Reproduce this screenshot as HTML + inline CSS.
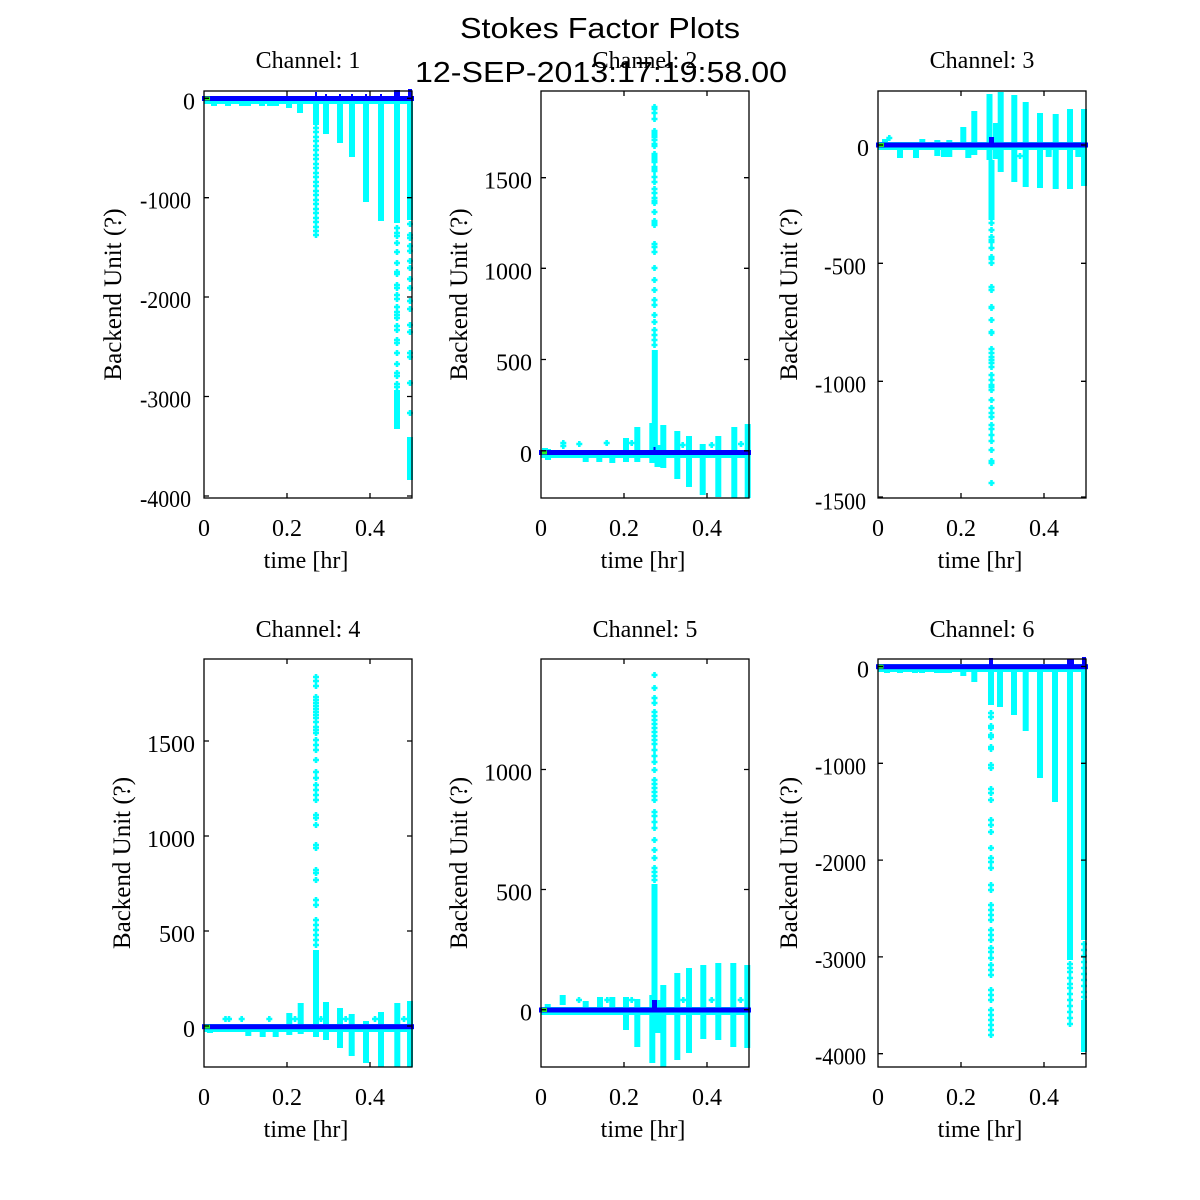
<!DOCTYPE html>
<html><head><meta charset="utf-8"><style>html,body{margin:0;padding:0;background:#fff}svg{display:block}</style></head>
<body>
<svg width="1200" height="1200" viewBox="0 0 1200 1200" xmlns="http://www.w3.org/2000/svg">
<rect width="1200" height="1200" fill="#fff"/>

<!-- ================= PLOT 1 ================= -->
<g>
<rect x="204" y="96" width="209" height="8" fill="#00ffff"/>
<path fill="none" stroke="#00ffff" stroke-width="6" d="M214 98V106M228 98V106M242 98V106M248 98V106M262 98V106M270 98V106M276 98V106M289 98V108M300 98V113M316 96V125M326 96V134M340 96V143M352 96V157M366 96V202M381 96V221M397 96V223M397 390V429M410 96V220M410 437V480"/>
<path fill="none" stroke="#00ffff" stroke-width="2.6" d="M313 128h6m-3-3v6M313 132h6m-3-3v6M313 137h6m-3-3v6M313 141h6m-3-3v6M313 146h6m-3-3v6M313 150h6m-3-3v6M313 155h6m-3-3v6M313 159h6m-3-3v6M313 164h6m-3-3v6M313 168h6m-3-3v6M313 173h6m-3-3v6M313 177h6m-3-3v6M313 182h6m-3-3v6M313 186h6m-3-3v6M313 191h6m-3-3v6M313 195h6m-3-3v6M313 200h6m-3-3v6M313 204h6m-3-3v6M313 209h6m-3-3v6M313 213h6m-3-3v6M313 218h6m-3-3v6M313 222h6m-3-3v6M313 227h6m-3-3v6M313 231h6m-3-3v6M313 235h6m-3-3v6
M394 228h6m-3-3v6M394 233h6m-3-3v6M394 236h6m-3-3v6M394 243h6m-3-3v6M394 252h6m-3-3v6M394 263h6m-3-3v6M394 272h6m-3-3v6M394 274h6m-3-3v6M394 285h6m-3-3v6M394 288h6m-3-3v6M394 295h6m-3-3v6M394 299h6m-3-3v6M394 307h6m-3-3v6M394 312h6m-3-3v6M394 315h6m-3-3v6M394 318h6m-3-3v6M394 326h6m-3-3v6M394 330h6m-3-3v6M394 340h6m-3-3v6M394 343h6m-3-3v6M394 353h6m-3-3v6M394 364h6m-3-3v6M394 373h6m-3-3v6M394 376h6m-3-3v6M394 384h6m-3-3v6M394 387h6m-3-3v6
M407 224h6m-3-3v6M407 235h6m-3-3v6M407 238h6m-3-3v6M407 246h6m-3-3v6M407 251h6m-3-3v6M407 261h6m-3-3v6M407 268h6m-3-3v6M407 279h6m-3-3v6M407 288h6m-3-3v6M407 301h6m-3-3v6M407 309h6m-3-3v6M407 325h6m-3-3v6M407 332h6m-3-3v6M407 353h6m-3-3v6M407 357h6m-3-3v6M407 383h6m-3-3v6M407 413h6m-3-3v6"/>
<rect x="202" y="96" width="212" height="5" fill="#0000ff"/>
<rect x="394" y="90" width="6" height="8" fill="#0000ff"/>
<rect x="408" y="89" width="4" height="9" fill="#0000ff"/>
<path fill="none" stroke="#0000ff" stroke-width="2" d="M316 92v5M326 94v3M340 94v3M352 94v3M366 94v3M381 94v3"/>
<rect x="205" y="96.5" width="5" height="4" fill="#22ee22"/>
<rect x="204" y="91" width="208" height="407" fill="none" stroke="#000" stroke-width="1.3"/>
<path fill="none" stroke="#000" stroke-width="1.3" d="M287 498v-5M370 498v-5M287 91v5M370 91v5M204 98.3h5M204 197.7h5M204 297h5M204 396.5h5M204 496h5M412 98.3h-5M412 197.7h-5M412 297h-5M412 396.5h-5M412 496h-5"/>
<g font-family="Liberation Serif, serif" font-size="24" fill="#000">
<text x="308" y="68" text-anchor="middle">Channel: 1</text>
<g text-anchor="end">
<text x="195" y="109.3">0</text>
<text x="191" y="208.7" textLength="51" lengthAdjust="spacingAndGlyphs">-1000</text>
<text x="191" y="308" textLength="51" lengthAdjust="spacingAndGlyphs">-2000</text>
<text x="191" y="407.5" textLength="51" lengthAdjust="spacingAndGlyphs">-3000</text>
<text x="191" y="507" textLength="51" lengthAdjust="spacingAndGlyphs">-4000</text>
</g>
<g text-anchor="middle">
<text x="204" y="536">0</text>
<text x="287" y="536">0.2</text>
<text x="370" y="536">0.4</text>
<text x="306" y="568">time [hr]</text>
</g>
<text transform="translate(121,294.5) rotate(-90)" text-anchor="middle" font-size="25">Backend Unit (?)</text>
</g>
</g>

<!-- ================= PLOT 2 ================= -->
<g>
<rect x="541" y="450" width="209" height="8" fill="#00ffff"/>
<path fill="none" stroke="#00ffff" stroke-width="6" d="M545 448V458M548 449V460M585.7 453V462M599.3 453V462M612.3 453V463M626 438V462M637.3 427V462M652.3 423V463M654.8 350V463M657.5 445V467M663.3 425V468M677.3 431V479M689 436V487M702.7 444V495M718.3 436V497M734.3 427V498M747.7 424V498"/>
<path fill="none" stroke="#00ffff" stroke-width="2.6" d="M560.3 443h6m-3-3v6M560.3 446h6m-3-3v6M576.3 444h6m-3-3v6M603.7 443h6m-3-3v6M628.7 443h6m-3-3v6M679.7 445h6m-3-3v6M708.7 445h6m-3-3v6M738 444h6m-3-3v6
M651.5 107h6m-3-3v6M651.5 109h6m-3-3v6M651.5 113h6m-3-3v6M651.5 119h6m-3-3v6M651.5 131h6m-3-3v6M651.5 133h6m-3-3v6M651.5 135h6m-3-3v6M651.5 137h6m-3-3v6M651.5 140h6m-3-3v6M651.5 144h6m-3-3v6M651.5 146h6m-3-3v6M651.5 154h6m-3-3v6M651.5 156h6m-3-3v6M651.5 158h6m-3-3v6M651.5 160h6m-3-3v6M651.5 162h6m-3-3v6M651.5 167h6m-3-3v6M651.5 169h6m-3-3v6M651.5 171h6m-3-3v6M651.5 177h6m-3-3v6M651.5 182h6m-3-3v6M651.5 189h6m-3-3v6M651.5 193h6m-3-3v6M651.5 198h6m-3-3v6M651.5 201h6m-3-3v6M651.5 203h6m-3-3v6M651.5 212h6m-3-3v6M651.5 221h6m-3-3v6M651.5 223h6m-3-3v6M651.5 225h6m-3-3v6M651.5 244h6m-3-3v6M651.5 247h6m-3-3v6M651.5 252h6m-3-3v6M651.5 268h6m-3-3v6M651.5 280h6m-3-3v6M651.5 290h6m-3-3v6M651.5 300h6m-3-3v6M651.5 305h6m-3-3v6M651.5 315h6m-3-3v6M651.5 322h6m-3-3v6M651.5 330h6m-3-3v6M651.5 335h6m-3-3v6M651.5 340h6m-3-3v6M651.5 345h6m-3-3v6"/>
<rect x="539" y="450" width="212" height="5" fill="#0000ff"/>
<path fill="none" stroke="#0000ff" stroke-width="2" d="M654.5 447v4"/>
<rect x="542" y="450.5" width="5" height="4" fill="#22ee22"/>
<rect x="541" y="91" width="208" height="407" fill="none" stroke="#000" stroke-width="1.3"/>
<path fill="none" stroke="#000" stroke-width="1.3" d="M624 498v-5M707 498v-5M624 91v5M707 91v5M541 450.8h5M541 359.5h5M541 268.3h5M541 177.7h5M749 450.8h-5M749 359.5h-5M749 268.3h-5M749 177.7h-5"/>
<g font-family="Liberation Serif, serif" font-size="24" fill="#000">
<text x="645" y="68" text-anchor="middle">Channel: 2</text>
<g text-anchor="end">
<text x="532" y="462">0</text>
<text x="532" y="370.5">500</text>
<text x="532" y="279.3">1000</text>
<text x="532" y="188.7">1500</text>
</g>
<g text-anchor="middle">
<text x="541" y="536">0</text>
<text x="624" y="536">0.2</text>
<text x="707" y="536">0.4</text>
<text x="643" y="568">time [hr]</text>
</g>
<text transform="translate(467,294.5) rotate(-90)" text-anchor="middle" font-size="25">Backend Unit (?)</text>
</g>
</g>

<!-- ================= PLOT 3 ================= -->
<g>
<rect x="878" y="142" width="209" height="8" fill="#00ffff"/>
<path fill="none" stroke="#00ffff" stroke-width="6" d="M885 139V150M900 148V158M916 150V158M922.3 139V149M937.3 140V156M944 148V157M949.3 140V157M963.3 127V150M968.3 148V158M974.3 111V155M989.5 94V160M991.5 160V220M996 123V159M1000.7 92V172M1014.3 95V182M1025.7 102V187M1040 113V188M1048.7 148V157M1055.7 114V189M1070 109V189M1078.3 148V157M1084 109V186"/>
<path fill="none" stroke="#00ffff" stroke-width="2.6" d="M886.3 138h6m-3-3v6M1017 156h6m-3-3v6
M988.5 223h6m-3-3v6M988.5 230h6m-3-3v6M988.5 237h6m-3-3v6M988.5 240h6m-3-3v6M988.5 242h6m-3-3v6M988.5 248h6m-3-3v6M988.5 257h6m-3-3v6M988.5 259h6m-3-3v6M988.5 263h6m-3-3v6M988.5 287h6m-3-3v6M988.5 290h6m-3-3v6M988.5 307h6m-3-3v6M988.5 308h6m-3-3v6M988.5 320h6m-3-3v6M988.5 332h6m-3-3v6M988.5 333h6m-3-3v6M988.5 349h6m-3-3v6M988.5 353h6m-3-3v6M988.5 357h6m-3-3v6M988.5 360h6m-3-3v6M988.5 363h6m-3-3v6M988.5 367h6m-3-3v6M988.5 375h6m-3-3v6M988.5 380h6m-3-3v6M988.5 385h6m-3-3v6M988.5 387h6m-3-3v6M988.5 390h6m-3-3v6M988.5 400h6m-3-3v6M988.5 408h6m-3-3v6M988.5 413h6m-3-3v6M988.5 417h6m-3-3v6M988.5 425h6m-3-3v6M988.5 429h6m-3-3v6M988.5 435h6m-3-3v6M988.5 441h6m-3-3v6M988.5 450h6m-3-3v6M988.5 461h6m-3-3v6M988.5 463h6m-3-3v6M988.5 483h6m-3-3v6"/>
<rect x="876" y="142.5" width="212" height="5" fill="#0000ff"/>
<rect x="989" y="137" width="5" height="8" fill="#0000ff"/>
<rect x="879" y="143" width="5" height="4" fill="#22ee22"/>
<rect x="878" y="91" width="208" height="407" fill="none" stroke="#000" stroke-width="1.3"/>
<path fill="none" stroke="#000" stroke-width="1.3" d="M961 498v-5M1044 498v-5M961 91v5M1044 91v5M878 145h5M878 263.3h5M878 381.3h5M878 497h5M1086 145h-5M1086 263.3h-5M1086 381.3h-5M1086 497h-5"/>
<g font-family="Liberation Serif, serif" font-size="24" fill="#000">
<text x="982" y="68" text-anchor="middle">Channel: 3</text>
<g text-anchor="end">
<text x="869" y="156">0</text>
<text x="866" y="274.3" textLength="42" lengthAdjust="spacingAndGlyphs">-500</text>
<text x="866" y="392.3" textLength="51" lengthAdjust="spacingAndGlyphs">-1000</text>
<text x="866" y="509.7" textLength="51" lengthAdjust="spacingAndGlyphs">-1500</text>
</g>
<g text-anchor="middle">
<text x="878" y="536">0</text>
<text x="961" y="536">0.2</text>
<text x="1044" y="536">0.4</text>
<text x="980" y="568">time [hr]</text>
</g>
<text transform="translate(797,294.5) rotate(-90)" text-anchor="middle" font-size="25">Backend Unit (?)</text>
</g>
</g>

<!-- ================= PLOT 4 ================= -->
<g>
<rect x="204" y="1024" width="209" height="8" fill="#00ffff"/>
<path fill="none" stroke="#00ffff" stroke-width="6" d="M210 1026V1033M248.3 1026V1036M262.7 1026V1037M275.7 1026V1037M289.3 1013V1035M300.7 1003V1034M316 950V1037M326 1002V1040M340 1008V1048M351.7 1014V1056M366 1021V1063M381 1012V1067M397.3 1003V1067M410 1001V1067"/>
<path fill="none" stroke="#00ffff" stroke-width="2.6" d="M222.5 1019h6m-3-3v6M226 1019h6m-3-3v6M238.7 1019h6m-3-3v6M266.3 1019h6m-3-3v6M292 1019h6m-3-3v6M318 1019h6m-3-3v6M342.7 1019h6m-3-3v6M372 1019h6m-3-3v6M401 1019h6m-3-3v6
M313 677h6m-3-3v6M313 681h6m-3-3v6M313 686h6m-3-3v6M313 697h6m-3-3v6M313 700h6m-3-3v6M313 703h6m-3-3v6M313 706h6m-3-3v6M313 709h6m-3-3v6M313 712h6m-3-3v6M313 715h6m-3-3v6M313 718h6m-3-3v6M313 722h6m-3-3v6M313 727h6m-3-3v6M313 730h6m-3-3v6M313 733h6m-3-3v6M313 740h6m-3-3v6M313 745h6m-3-3v6M313 750h6m-3-3v6M313 760h6m-3-3v6M313 772h6m-3-3v6M313 778h6m-3-3v6M313 785h6m-3-3v6M313 790h6m-3-3v6M313 795h6m-3-3v6M313 800h6m-3-3v6M313 815h6m-3-3v6M313 818h6m-3-3v6M313 825h6m-3-3v6M313 845h6m-3-3v6M313 848h6m-3-3v6M313 870h6m-3-3v6M313 873h6m-3-3v6M313 880h6m-3-3v6M313 900h6m-3-3v6M313 905h6m-3-3v6M313 920h6m-3-3v6M313 925h6m-3-3v6M313 930h6m-3-3v6M313 935h6m-3-3v6M313 940h6m-3-3v6M313 945h6m-3-3v6"/>
<rect x="202" y="1024.2" width="212" height="5" fill="#0000ff"/>
<rect x="205" y="1024.7" width="5" height="4" fill="#22ee22"/>
<rect x="204" y="659" width="208" height="408" fill="none" stroke="#000" stroke-width="1.3"/>
<path fill="none" stroke="#000" stroke-width="1.3" d="M287 1067v-5M370 1067v-5M287 659v5M370 659v5M204 1026h5M204 931h5M204 836h5M204 741h5M412 1026h-5M412 931h-5M412 836h-5M412 741h-5"/>
<g font-family="Liberation Serif, serif" font-size="24" fill="#000">
<text x="308" y="637" text-anchor="middle">Channel: 4</text>
<g text-anchor="end">
<text x="195" y="1037">0</text>
<text x="195" y="942">500</text>
<text x="195" y="847">1000</text>
<text x="195" y="752">1500</text>
</g>
<g text-anchor="middle">
<text x="204" y="1105">0</text>
<text x="287" y="1105">0.2</text>
<text x="370" y="1105">0.4</text>
<text x="306" y="1137">time [hr]</text>
</g>
<text transform="translate(130,863) rotate(-90)" text-anchor="middle" font-size="25">Backend Unit (?)</text>
</g>
</g>

<!-- ================= PLOT 5 ================= -->
<g>
<rect x="541" y="1007" width="209" height="8" fill="#00ffff"/>
<path fill="none" stroke="#00ffff" stroke-width="6" d="M547.7 1004V1015M562.7 995V1005M585.7 1001V1015M600 997V1015M612.3 997V1015M626 997V1030M637.3 999V1047M652.3 995V1063M654.5 884V1010M658.3 1000V1033M663.3 985V1067M677.3 973V1060M689 968V1053M703.3 965V1039M718.3 963V1040M733.3 963V1047M747.3 965V1048"/>
<path fill="none" stroke="#00ffff" stroke-width="2.6" d="M576 1000h6m-3-3v6M604.3 1000h6m-3-3v6M628.7 1000h6m-3-3v6M680.3 1000h6m-3-3v6M708.7 1000h6m-3-3v6M737.7 1000h6m-3-3v6
M651.5 675h6m-3-3v6M651.5 688h6m-3-3v6M651.5 698h6m-3-3v6M651.5 703h6m-3-3v6M651.5 712h6m-3-3v6M651.5 716h6m-3-3v6M651.5 720h6m-3-3v6M651.5 724h6m-3-3v6M651.5 728h6m-3-3v6M651.5 732h6m-3-3v6M651.5 736h6m-3-3v6M651.5 740h6m-3-3v6M651.5 744h6m-3-3v6M651.5 750h6m-3-3v6M651.5 756h6m-3-3v6M651.5 762h6m-3-3v6M651.5 770h6m-3-3v6M651.5 780h6m-3-3v6M651.5 784h6m-3-3v6M651.5 788h6m-3-3v6M651.5 792h6m-3-3v6M651.5 796h6m-3-3v6M651.5 800h6m-3-3v6M651.5 812h6m-3-3v6M651.5 816h6m-3-3v6M651.5 822h6m-3-3v6M651.5 828h6m-3-3v6M651.5 840h6m-3-3v6M651.5 850h6m-3-3v6M651.5 858h6m-3-3v6M651.5 868h6m-3-3v6M651.5 872h6m-3-3v6M651.5 876h6m-3-3v6M651.5 880h6m-3-3v6"/>
<rect x="539" y="1007.5" width="212" height="5" fill="#0000ff"/>
<rect x="652" y="1000" width="5" height="8" fill="#0000ff"/>
<rect x="542" y="1008" width="5" height="4" fill="#22ee22"/>
<rect x="541" y="659" width="208" height="408" fill="none" stroke="#000" stroke-width="1.3"/>
<path fill="none" stroke="#000" stroke-width="1.3" d="M624 1067v-5M707 1067v-5M624 659v5M707 659v5M541 1009.7h5M541 889.5h5M541 769.5h5M749 1009.7h-5M749 889.5h-5M749 769.5h-5"/>
<g font-family="Liberation Serif, serif" font-size="24" fill="#000">
<text x="645" y="637" text-anchor="middle">Channel: 5</text>
<g text-anchor="end">
<text x="532" y="1020.7">0</text>
<text x="532" y="900.5">500</text>
<text x="532" y="780.5">1000</text>
</g>
<g text-anchor="middle">
<text x="541" y="1105">0</text>
<text x="624" y="1105">0.2</text>
<text x="707" y="1105">0.4</text>
<text x="643" y="1137">time [hr]</text>
</g>
<text transform="translate(467,863) rotate(-90)" text-anchor="middle" font-size="25">Backend Unit (?)</text>
</g>
</g>

<!-- ================= PLOT 6 ================= -->
<g>
<rect x="878" y="664" width="209" height="8" fill="#00ffff"/>
<path fill="none" stroke="#00ffff" stroke-width="6" d="M887 667V673M900 667V673M915 667V673M922 667V673M937 667V673M943 667V673M949 667V673M963.3 667V676M974.3 667V682M991 667V705M1000 667V707M1014 667V715M1025.7 667V731M1040 667V778M1055 667V802M1070 667V960M1084 667V940M1084 1000V1052"/>
<path fill="none" stroke="#00ffff" stroke-width="2.6" d="M988 713h6m-3-3v6M988 717h6m-3-3v6M988 726h6m-3-3v6M988 728h6m-3-3v6M988 735h6m-3-3v6M988 737h6m-3-3v6M988 747h6m-3-3v6M988 749h6m-3-3v6M988 765h6m-3-3v6M988 768h6m-3-3v6M988 789h6m-3-3v6M988 793h6m-3-3v6M988 800h6m-3-3v6M988 820h6m-3-3v6M988 825h6m-3-3v6M988 832h6m-3-3v6M988 848h6m-3-3v6M988 858h6m-3-3v6M988 862h6m-3-3v6M988 868h6m-3-3v6M988 885h6m-3-3v6M988 890h6m-3-3v6M988 905h6m-3-3v6M988 910h6m-3-3v6M988 915h6m-3-3v6M988 920h6m-3-3v6M988 930h6m-3-3v6M988 935h6m-3-3v6M988 940h6m-3-3v6M988 948h6m-3-3v6M988 952h6m-3-3v6M988 958h6m-3-3v6M988 965h6m-3-3v6M988 970h6m-3-3v6M988 975h6m-3-3v6M988 990h6m-3-3v6M988 995h6m-3-3v6M988 1000h6m-3-3v6M988 1010h6m-3-3v6M988 1015h6m-3-3v6M988 1020h6m-3-3v6M988 1025h6m-3-3v6M988 1030h6m-3-3v6M988 1035h6m-3-3v6
M1067 964h6m-3-3v6M1067 968h6m-3-3v6M1067 972h6m-3-3v6M1067 978h6m-3-3v6M1067 984h6m-3-3v6M1067 988h6m-3-3v6M1067 994h6m-3-3v6M1067 1000h6m-3-3v6M1067 1006h6m-3-3v6M1067 1012h6m-3-3v6M1067 1018h6m-3-3v6M1067 1024h6m-3-3v6
M1081 944h6m-3-3v6M1081 950h6m-3-3v6M1081 956h6m-3-3v6M1081 962h6m-3-3v6M1081 968h6m-3-3v6M1081 974h6m-3-3v6M1081 980h6m-3-3v6M1081 986h6m-3-3v6M1081 992h6m-3-3v6M1081 997h6m-3-3v6"/>
<rect x="876" y="664.2" width="212" height="5" fill="#0000ff"/>
<rect x="989" y="658" width="4" height="8" fill="#0000ff"/>
<rect x="1067" y="659" width="7" height="8" fill="#0000ff"/>
<rect x="1082" y="657" width="4" height="9" fill="#0000ff"/>
<rect x="878.5" y="664.7" width="5" height="4" fill="#22ee22"/>
<rect x="878" y="659" width="208" height="408" fill="none" stroke="#000" stroke-width="1.3"/>
<path fill="none" stroke="#000" stroke-width="1.3" d="M961 1067v-5M1044 1067v-5M961 659v5M1044 659v5M878 666.5h5M878 763.3h5M878 860.1h5M878 956.9h5M878 1053.7h5M1086 666.5h-5M1086 763.3h-5M1086 860.1h-5M1086 956.9h-5M1086 1053.7h-5"/>
<g font-family="Liberation Serif, serif" font-size="24" fill="#000">
<text x="982" y="637" text-anchor="middle">Channel: 6</text>
<g text-anchor="end">
<text x="869" y="677.5">0</text>
<text x="866" y="774.3" textLength="51" lengthAdjust="spacingAndGlyphs">-1000</text>
<text x="866" y="871" textLength="51" lengthAdjust="spacingAndGlyphs">-2000</text>
<text x="866" y="968" textLength="51" lengthAdjust="spacingAndGlyphs">-3000</text>
<text x="866" y="1064.7" textLength="51" lengthAdjust="spacingAndGlyphs">-4000</text>
</g>
<g text-anchor="middle">
<text x="878" y="1105">0</text>
<text x="961" y="1105">0.2</text>
<text x="1044" y="1105">0.4</text>
<text x="980" y="1137">time [hr]</text>
</g>
<text transform="translate(797,863) rotate(-90)" text-anchor="middle" font-size="25">Backend Unit (?)</text>
</g>
</g>

<!-- ================= MAIN TITLE ================= -->
<g font-family="Liberation Sans, sans-serif" font-size="29" fill="#000" text-anchor="middle">
<text x="600" y="38" textLength="280" lengthAdjust="spacingAndGlyphs">Stokes Factor Plots</text>
<text x="601" y="82" textLength="372" lengthAdjust="spacingAndGlyphs">12-SEP-2013:17:19:58.00</text>
</g>
</svg>
</body></html>
